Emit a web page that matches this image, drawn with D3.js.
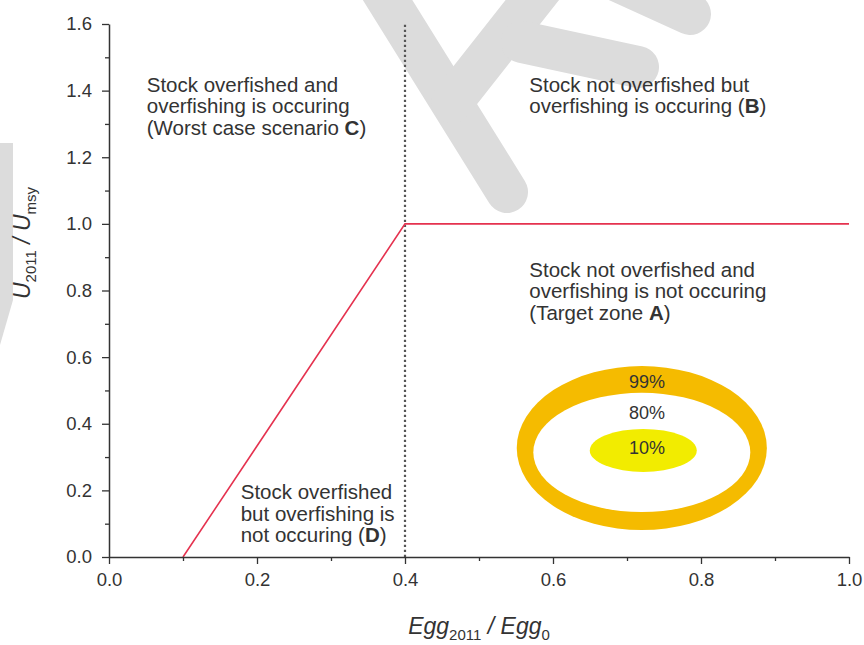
<!DOCTYPE html>
<html>
<head>
<meta charset="utf-8">
<script src="https://cdn.jsdelivr.net/npm/d3@7"></script>
<style>
  html, body { margin: 0; padding: 0; background: #fff; }
  svg { display: block; font-family: "Liberation Sans", Arial, Helvetica, sans-serif; }
</style>
</head>
<body>
<svg id="chart" width="864" height="645"></svg>
<script>
// Axis ranges and ticks
const xDomain = [0, 1.0];
const yDomain = [0, 1.6];
const xMajorTicks = [0, 0.2, 0.4, 0.6, 0.8, 1.0];
const xMinorTicks = [0.1, 0.3, 0.5, 0.7, 0.9];
const yMajorTicks = [0, 0.2, 0.4, 0.6, 0.8, 1.0, 1.2, 1.4, 1.6];
const yMinorTicks = [0.1, 0.3, 0.5, 0.7, 0.9, 1.1, 1.3, 1.5];

// Harvest control rule: U/Umsy limit against relative egg production
const ruleX = [0.1, 0.4, 1.0];
const ruleY = [0.0, 1.0, 1.0];

// Boundary between overfished / not overfished stock
const overfishedLimit = 0.4;

// Confidence contours of the 2011 stock status (outer to inner)
const contourNames = ["99%", "80%", "10%"];
const contourCx = [0.720, 0.720, 0.722];
const contourCy = [0.327, 0.314, 0.320];
const contourRx = [0.169, 0.1466, 0.0723];
const contourRy = [0.246, 0.179, 0.0645];
const contourLabelY = [0.525, 0.432, 0.327];

// Quadrant descriptions (anchor in data units, lines of text)
const zoneNames = ["C", "B", "A", "D"];
const zoneX = [0.051, 0.568, 0.568, 0.178];
const zoneY = [1.397, 1.397, 0.841, 0.174];
const zoneLines = [
  [["Stock overfished and"], ["overfishing is occuring"], ["(Worst case scenario ", "C", ")"]],
  [["Stock not overfished but"], ["overfishing is occuring (", "B", ")"]],
  [["Stock not overfished and"], ["overfishing is not occuring"], ["(Target zone ", "A", ")"]],
  [["Stock overfished"], ["but overfishing is"], ["not occuring (", "D", ")"]]
];

const svg = d3.select("#chart");
const margin = { left: 109, right: 15, top: 24, bottom: 88 };
const W = 864, H = 645;

const x = d3.scaleLinear().domain(xDomain).range([margin.left, W - margin.right]);
const y = d3.scaleLinear().domain(yDomain).range([H - margin.bottom, margin.top]);

// Light background mark
const mark = svg.append("g")
  .attr("fill", "none")
  .attr("stroke", "#dcdcdc")
  .attr("stroke-linecap", "round");
[
  [[372, -25], [507, 192]],
  [[452, 102], [552, -25]],
  [[522, 42], [638, 67]],
  [[598, -28], [690, 14]]
].forEach(seg => {
  mark.append("line")
    .attr("x1", seg[0][0]).attr("y1", seg[0][1])
    .attr("x2", seg[1][0]).attr("y2", seg[1][1])
    .attr("stroke-width", 42);
});
svg.append("path")
  .attr("d", "M0,143 L13,143 L13,300 L0,345 Z")
  .attr("fill", "#dcdcdc");

// Contours
const contourFill = ["#f5bb00", "#ffffff", "#f2ec00"];
const contours = svg.append("g");
contourNames.forEach((name, i) => {
  contours.append("ellipse")
    .attr("cx", x(contourCx[i]))
    .attr("cy", y(contourCy[i]))
    .attr("rx", x(contourRx[i]) - x(0))
    .attr("ry", y(0) - y(contourRy[i]))
    .attr("fill", contourFill[i]);
});
contourNames.forEach((name, i) => {
  contours.append("text")
    .attr("x", x(0.727))
    .attr("y", y(contourLabelY[i]))
    .attr("text-anchor", "middle")
    .attr("dominant-baseline", "central")
    .attr("font-size", 18)
    .attr("fill", "#333")
    .text(name);
});

// Vertical dotted boundary
svg.append("line")
  .attr("x1", x(overfishedLimit)).attr("x2", x(overfishedLimit))
  .attr("y1", y(yDomain[0])).attr("y2", y(yDomain[1]))
  .attr("stroke", "#555")
  .attr("stroke-width", 2.2)
  .attr("stroke-dasharray", "2.2,2.8");

// Control rule
const line = d3.line().x((d, i) => x(ruleX[i])).y((d, i) => y(ruleY[i]));
svg.append("path")
  .datum(ruleX)
  .attr("d", line)
  .attr("fill", "none")
  .attr("stroke", "#e5324f")
  .attr("stroke-width", 1.6);

// Axes
const tickFont = 18.5;
svg.append("g")
  .attr("transform", `translate(0,${y(0)})`)
  .call(d3.axisBottom(x).tickValues(xMajorTicks).tickFormat(d3.format(".1f"))
    .tickSize(7).tickPadding(9).tickSizeOuter(0));
svg.append("g")
  .attr("transform", `translate(0,${y(0)})`)
  .call(d3.axisBottom(x).tickValues(xMinorTicks).tickFormat("").tickSize(4))
  .call(g => g.select(".domain").remove());

svg.append("g")
  .attr("transform", `translate(${x(0)},0)`)
  .call(d3.axisLeft(y).tickValues(yMajorTicks).tickFormat(d3.format(".1f"))
    .tickSize(7).tickPadding(10).tickSizeOuter(0));
svg.append("g")
  .attr("transform", `translate(${x(0)},0)`)
  .call(d3.axisLeft(y).tickValues(yMinorTicks).tickFormat("").tickSize(4))
  .call(g => g.select(".domain").remove());

svg.selectAll(".domain").attr("stroke", "#333").attr("stroke-width", 1.5);
svg.selectAll(".tick line").attr("stroke", "#333").attr("stroke-width", 1.3);
svg.selectAll(".tick text")
  .attr("font-size", tickFont)
  .attr("font-family", "'Liberation Sans', Arial, sans-serif")
  .attr("fill", "#333");

// Axis titles
const xTitle = svg.append("text")
  .attr("x", (x(0) + x(1)) / 2)
  .attr("y", 634)
  .attr("text-anchor", "middle")
  .attr("font-size", 23)
  .attr("fill", "#333");
xTitle.append("tspan").attr("font-style", "italic").text("Egg");
xTitle.append("tspan").attr("font-size", 15).attr("dy", 6).text("2011");
xTitle.append("tspan").attr("font-style", "italic").attr("dy", -6).text(" / Egg");
xTitle.append("tspan").attr("font-size", 15).attr("dy", 6).text("0");

const yTitle = svg.append("text")
  .attr("transform", "translate(30,243) rotate(-90)")
  .attr("text-anchor", "middle")
  .attr("font-size", 23)
  .attr("fill", "#333");
yTitle.append("tspan").attr("font-style", "italic").text("U");
yTitle.append("tspan").attr("font-size", 15).attr("dy", 6).text("2011");
yTitle.append("tspan").attr("font-style", "italic").attr("dy", -6).text(" / U");
yTitle.append("tspan").attr("font-size", 15).attr("dy", 6).text("msy");

// Zone descriptions
const lineGap = 21.5;
zoneNames.forEach((z, i) => {
  const t = svg.append("text")
    .attr("font-size", 20.5)
    .attr("fill", "#333");
  zoneLines[i].forEach((parts, j) => {
    parts.forEach((p, k) => {
      const ts = t.append("tspan").text(p);
      if (k === 0) ts.attr("x", x(zoneX[i])).attr("y", y(zoneY[i]) + j * lineGap);
      if (p === z) ts.attr("font-weight", "bold");
    });
  });
});
</script>
</body>
</html>
